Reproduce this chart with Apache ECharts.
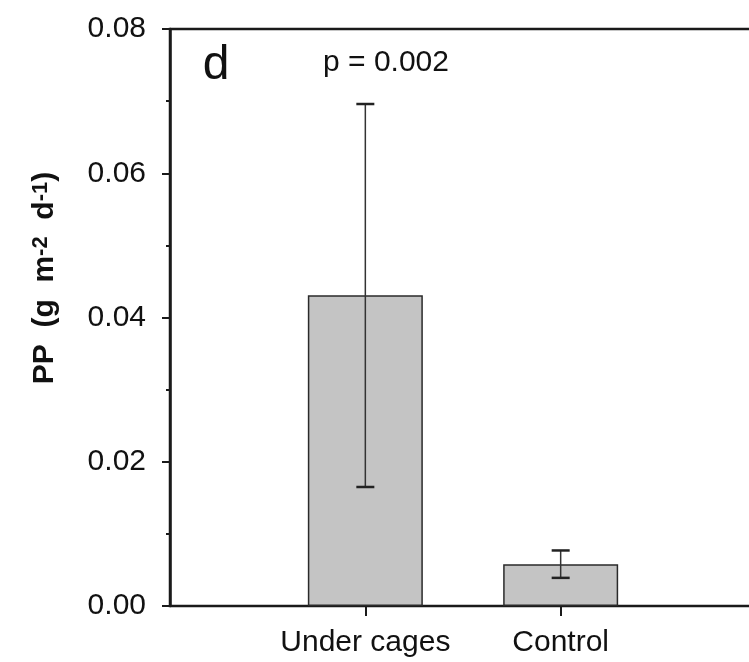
<!DOCTYPE html>
<html>
<head>
<meta charset="utf-8">
<script src="https://cdn.jsdelivr.net/npm/echarts@6/dist/echarts.min.js"></script>
<style>
  html, body { margin: 0; padding: 0; background: #fff; }
  #main { width: 749px; height: 662px; }
</style>
</head>
<body>
<div id="main"></div>
<script>
// data
var categories = ['Under cages', 'Control'];
var positions = [1, 2];
var means = [0.0431, 0.0058];
var errLow = [0.0165, 0.0039];
var errHigh = [0.0696, 0.0077];
var yTicks = [0, 0.02, 0.04, 0.06, 0.08];

var FONT = 'Liberation Sans, Arial, sans-serif';
var chart = echarts.init(document.getElementById('main'));

var barData = [];
var errData = [];
for (var i = 0; i < categories.length; i++) {
    barData.push([positions[i], means[i]]);
    errData.push([positions[i], errLow[i], errHigh[i]]);
}

// error bar with caps
function renderErr(params, api) {
    var x = api.value(0);
    var lo = api.coord([x, api.value(1)]);
    var hi = api.coord([x, api.value(2)]);
    var half = 9;
    var st = { stroke: '#333', lineWidth: 1.5 };
    var cap = { stroke: '#222', lineWidth: 2.5 };
    return {
        type: 'group',
        children: [
            { type: 'line', shape: { x1: lo[0], y1: lo[1], x2: hi[0], y2: hi[1] }, style: st },
            { type: 'line', shape: { x1: hi[0] - half, y1: hi[1], x2: hi[0] + half, y2: hi[1] }, style: cap },
            { type: 'line', shape: { x1: lo[0] - half, y1: lo[1], x2: lo[0] + half, y2: lo[1] }, style: cap }
        ]
    };
}

var option = {
    animation: false,
    backgroundColor: '#fff',
    grid: {
        left: 170, right: -7, top: 29, bottom: 56,
        outerBoundsMode: 'none',
        show: true, borderColor: '#1a1a1a', borderWidth: 2.5
    },
    xAxis: {
        type: 'value',
        min: 0, max: 3,
        splitLine: { show: false },
        axisLine: { show: true, onZero: false, lineStyle: { color: '#1a1a1a', width: 2 } },
        axisTick: { show: true, customValues: positions, length: 10, lineStyle: { color: '#1a1a1a', width: 2 } },
        axisLabel: {
            customValues: positions,
            margin: 22,
            fontFamily: FONT, fontSize: 30, color: '#111',
            formatter: function (v) { return categories[positions.indexOf(v)] || ''; }
        }
    },
    yAxis: {
        type: 'value',
        min: yTicks[0], max: yTicks[yTicks.length - 1], interval: 0.02,
        splitLine: { show: false },
        axisLine: { show: true, lineStyle: { color: '#1a1a1a', width: 2.5 } },
        axisTick: { show: true, length: 8, lineStyle: { color: '#1a1a1a', width: 2 } },
        minorTick: { show: true, splitNumber: 2, length: 4, lineStyle: { color: '#1a1a1a', width: 2 } },
        axisLabel: {
            margin: 24,
            fontFamily: FONT, fontSize: 30, color: '#111',
            formatter: function (v) { return v.toFixed(2); }
        }
    },
    graphic: [
        {
            type: 'text', x: 45, y: 278, rotation: Math.PI / 2,
            style: {
                text: '{b|PP  (g  m}{s|-2}{b|  d}{s|-1}{b|)}',
                align: 'center', verticalAlign: 'middle',
                rich: {
                    b: { fontFamily: FONT, fontSize: 30, fontWeight: 'bold', fill: '#111' },
                    s: { fontFamily: FONT, fontSize: 22, fontWeight: 'bold', fill: '#111', verticalAlign: 'top' }
                }
            }
        },
        {
            type: 'text', x: 216, y: 66,
            style: { text: 'd', font: '48px ' + FONT, fill: '#111', align: 'center', verticalAlign: 'middle' }
        },
        {
            type: 'text', x: 386, y: 63,
            style: { text: 'p = 0.002', font: '30px ' + FONT, fill: '#111', align: 'center', verticalAlign: 'middle' }
        }
    ],
    series: [
        {
            type: 'bar',
            data: barData,
            barWidth: 115,
            itemStyle: { color: '#c4c4c4', borderColor: '#2a2a2a', borderWidth: 1.5 }
        },
        {
            type: 'custom',
            renderItem: renderErr,
            data: errData,
            z: 10
        }
    ]
};

chart.setOption(option);
</script>
</body>
</html>
